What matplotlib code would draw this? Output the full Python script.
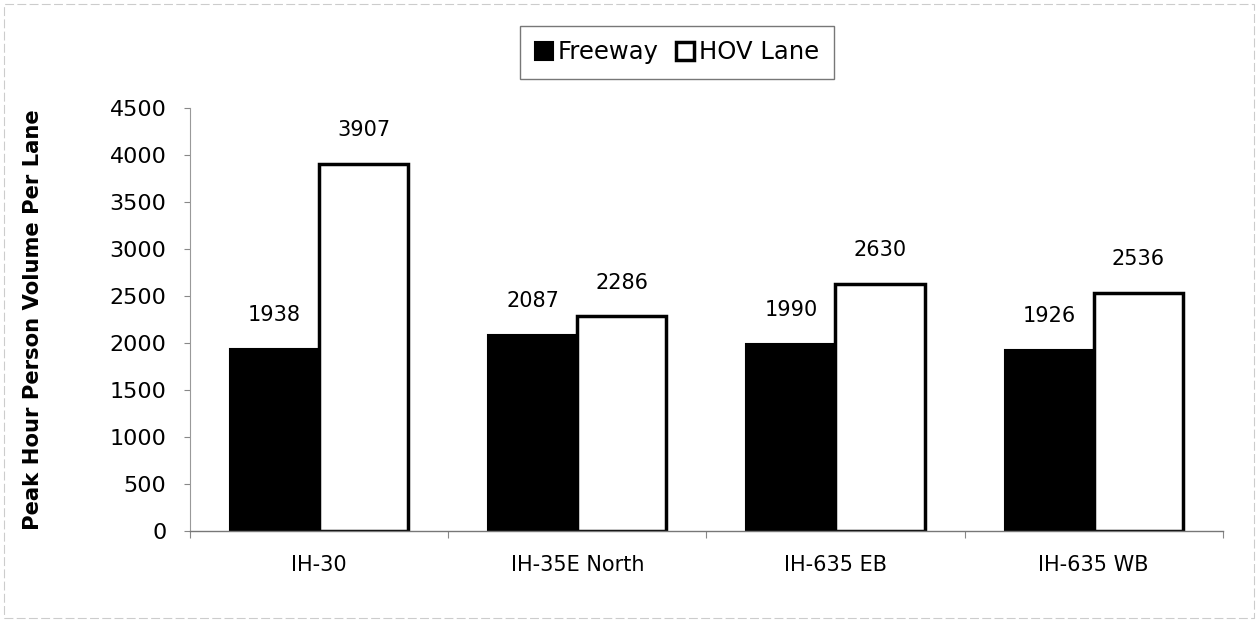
import numpy as np
import matplotlib
matplotlib.use("Agg")
import matplotlib.pyplot as plt
from matplotlib.patches import Rectangle

categories = ["IH-30", "IH-35E North", "IH-635 EB", "IH-635 WB"]
freeway = [1938, 2087, 1990, 1926]
hov_lane = [3907, 2286, 2630, 2536]
y_ticks = [0, 500, 1000, 1500, 2000, 2500, 3000, 3500, 4000, 4500]

plt.rcParams['font.family'] = ['DejaVu Sans']

fig = plt.figure(figsize=(12.58, 6.21), dpi=100)
ax = fig.add_axes([0.151, 0.145, 0.821, 0.681])

x = np.arange(len(categories))
w = 0.345
b1 = ax.bar(x - w / 2, freeway, w, color="black", edgecolor="black", linewidth=1.5, label="Freeway")
b2 = ax.bar(x + w / 2, hov_lane, w, color="white", edgecolor="black", linewidth=2.5, label="HOV Lane")

# value labels above the bars
for bars in (b1, b2):
    for r in bars:
        ax.annotate(str(int(r.get_height())), (r.get_x() + r.get_width() / 2, r.get_height()),
                    xytext=(0, 17), textcoords="offset points", ha="center", va="bottom", fontsize=15)

ax.set_xlim(-0.5, len(categories) - 0.5)
ax.set_ylim(0, 4500)
ax.set_yticks(y_ticks)
ax.tick_params(axis="y", labelsize=16, length=4, width=0.8, color="#888888", pad=13)
ax.set_xticks(x)
ax.set_xticklabels(categories, fontsize=15)
ax.tick_params(axis="x", length=0, pad=17)
ax.set_xticks(np.arange(-0.5, len(categories) + 0.5, 1), minor=True)
ax.tick_params(axis="x", which="minor", length=5, width=0.8, color="#888888")

ax.set_ylabel("Peak Hour Person Volume Per Lane", fontsize=15.2, fontweight="bold", labelpad=48)

for s in ["top", "right"]:
    ax.spines[s].set_visible(False)
ax.spines["left"].set_color("#999999")
ax.spines["left"].set_linewidth(0.8)
ax.spines["bottom"].set_color("#777777")
ax.spines["bottom"].set_linewidth(1.0)

leg = fig.legend(handles=[b1, b2], loc="center", bbox_to_anchor=(0.538, 0.916), ncol=2, fontsize=17.5,
                 frameon=True, fancybox=False, edgecolor="#555555", handlelength=0.75,
                 handleheight=0.75, handletextpad=0.2, columnspacing=0.7, borderpad=0.6)
leg.get_frame().set_linewidth(1.0)

# faint border of the scanned page
fig.patches.append(Rectangle((0.003, 0.005), 0.994, 0.988, transform=fig.transFigure,
                             fill=False, edgecolor="#cccccc", linewidth=0.8, linestyle=(0, (8, 3))))

fig.savefig("out.png", dpi=100)
